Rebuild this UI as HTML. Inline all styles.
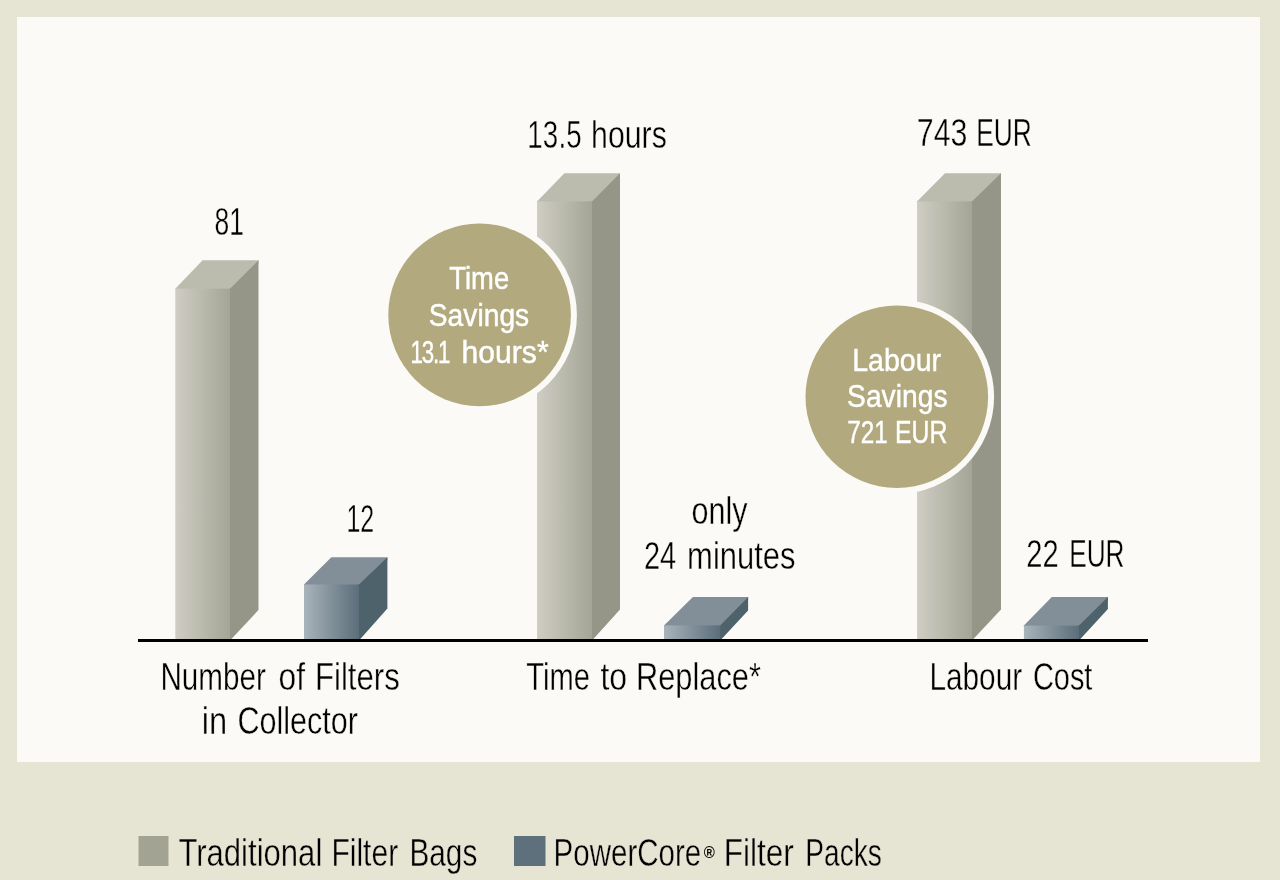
<!DOCTYPE html>
<html lang="en">
<head>
<meta charset="utf-8">
<title>PowerCore Filter Packs vs Traditional Filter Bags</title>
<style>
html,body{margin:0;padding:0;background:#e6e4d3;}
body{width:1280px;height:880px;overflow:hidden;}
svg{display:block;}
text{font-family:"Liberation Sans",sans-serif;fill:#000;stroke:#fbfaf6;stroke-width:0.4;}
.l{stroke:#e6e4d3;}
.w{fill:#fff;stroke:#fff;stroke-width:0.45;}
.r{font-weight:bold;stroke:none;}
</style>
</head>
<body>
<svg width="1280" height="880" viewBox="0 0 1280 880">
<defs>
<linearGradient id="gf" x1="0" y1="0" x2="1" y2="0">
<stop offset="0" stop-color="#d0cdc4"/><stop offset="0.5" stop-color="#b9b9ac"/><stop offset="1" stop-color="#a4a596"/>
</linearGradient>
<linearGradient id="bf" x1="0" y1="0" x2="1" y2="0">
<stop offset="0" stop-color="#a9b4bb"/><stop offset="0.5" stop-color="#82909a"/><stop offset="1" stop-color="#5b6e7a"/>
</linearGradient>
</defs>
<rect x="0" y="0" width="1280" height="880" fill="#e6e4d3"/>
<rect x="17" y="17" width="1243" height="745" fill="#fbfaf6"/>

<g>
<polygon points="175.3,289.7 175.3,288.7 202.6,260.3 258.5,260.3 258.5,263.3 230,291.7" fill="#bbbbae"/>
<polygon points="229,288.7 230,288.7 258.5,260.3 258.5,610 230,640.5 229,640.5" fill="#959687"/>
<rect x="175.3" y="288.7" width="54.7" height="351.8" fill="url(#gf)"/>
</g>
<g>
<polygon points="304,585.5 304,584.5 331.3,557.3 387.4,557.3 387.4,560.3 359,587.5" fill="#838f98"/>
<polygon points="358,584.5 359,584.5 387.4,557.3 387.4,608.5 359,640.5 358,640.5" fill="#4e626c"/>
<rect x="304" y="584.5" width="55" height="56.0" fill="url(#bf)"/>
</g>
<g>
<polygon points="537,202.4 537,201.4 564.4,173.2 620,173.2 620,176.2 592,204.4" fill="#bbbbae"/>
<polygon points="591,201.4 592,201.4 620,173.2 620,609.5 592,640.5 591,640.5" fill="#959687"/>
<rect x="537" y="201.4" width="55" height="439.1" fill="url(#gf)"/>
</g>
<g>
<polygon points="664,626.4 664,625.4 692.9,597.1 748.1,597.1 748.1,600.1 720.2,628.4" fill="#838f98"/>
<polygon points="719.2,625.4 720.2,625.4 748.1,597.1 748.1,610.5 720.2,640.5 719.2,640.5" fill="#4e626c"/>
<rect x="664" y="625.4" width="56.2" height="15.1" fill="url(#bf)"/>
</g>
<g>
<polygon points="917,202.4 917,201.4 945,173.2 1001,173.2 1001,176.2 972,204.4" fill="#bbbbae"/>
<polygon points="971,201.4 972,201.4 1001,173.2 1001,609.5 972,640.5 971,640.5" fill="#959687"/>
<rect x="917" y="201.4" width="55" height="439.1" fill="url(#gf)"/>
</g>
<g>
<polygon points="1023.9,626.6 1023.9,625.6 1051.8,597.1 1107.9,597.1 1107.9,600.1 1079,628.6" fill="#838f98"/>
<polygon points="1078,625.6 1079,625.6 1107.9,597.1 1107.9,609 1079,640.5 1078,640.5" fill="#4e626c"/>
<rect x="1023.9" y="625.6" width="55.1" height="14.9" fill="url(#bf)"/>
</g>

<!-- base line -->
<rect x="138" y="639" width="1010" height="3" fill="#000"/>

<!-- circles -->
<circle cx="479.6" cy="314.9" r="97.3" fill="#fbfaf6"/>
<circle cx="479.6" cy="314.9" r="91.3" fill="#b2a97e"/>
<circle cx="896.8" cy="396.7" r="97.3" fill="#fbfaf6"/>
<circle cx="896.8" cy="396.7" r="91.3" fill="#b2a97e"/>

<!-- labels -->
<text y="235" font-size="38.5"><tspan x="214.6" textLength="29.4" lengthAdjust="spacingAndGlyphs">81</tspan></text>
<text y="532" font-size="38.5"><tspan x="346.4" textLength="27.8" lengthAdjust="spacingAndGlyphs">12</tspan></text>
<text y="147.6" font-size="38.5"><tspan x="527.3" textLength="54.5" lengthAdjust="spacingAndGlyphs" letter-spacing="0.19">13.5</tspan> <tspan x="591.1" textLength="75.7" lengthAdjust="spacingAndGlyphs">hours</tspan></text>
<text y="146.3" font-size="38.5"><tspan x="916.8" textLength="50.6" lengthAdjust="spacingAndGlyphs">743</tspan> <tspan x="976.2" textLength="55.6" lengthAdjust="spacingAndGlyphs">EUR</tspan></text>
<text y="524" font-size="38.5"><tspan x="691.5" textLength="56.0" lengthAdjust="spacingAndGlyphs">only</tspan></text>
<text y="569" font-size="38.5"><tspan x="643.9" textLength="32.3" lengthAdjust="spacingAndGlyphs">24</tspan> <tspan x="687.1" textLength="108.4" lengthAdjust="spacingAndGlyphs">minutes</tspan></text>
<text y="566.5" font-size="38.5"><tspan x="1026.2" textLength="32.4" lengthAdjust="spacingAndGlyphs">22</tspan> <tspan x="1069.2" textLength="55.3" lengthAdjust="spacingAndGlyphs">EUR</tspan></text>
<text y="689.7" font-size="38.5"><tspan x="160.4" textLength="105.4" lengthAdjust="spacingAndGlyphs">Number</tspan> <tspan x="278.6" textLength="26.5" lengthAdjust="spacingAndGlyphs">of</tspan> <tspan x="315.0" textLength="84.8" lengthAdjust="spacingAndGlyphs">Filters</tspan></text>
<text y="734.3" font-size="38.5"><tspan x="201.8" textLength="25.4" lengthAdjust="spacingAndGlyphs">in</tspan> <tspan x="237.5" textLength="120.5" lengthAdjust="spacingAndGlyphs">Collector</tspan></text>
<text y="689.7" font-size="38.5"><tspan x="526.2" textLength="63.7" lengthAdjust="spacingAndGlyphs">Time</tspan> <tspan x="600.4" textLength="26.7" lengthAdjust="spacingAndGlyphs">to</tspan> <tspan x="636.0" textLength="124.9" lengthAdjust="spacingAndGlyphs">Replace*</tspan></text>
<text y="689.7" font-size="38.5"><tspan x="929.4" textLength="92.8" lengthAdjust="spacingAndGlyphs">Labour</tspan> <tspan x="1032.9" textLength="59.5" lengthAdjust="spacingAndGlyphs">Cost</tspan></text>
<text class="w" y="289" font-size="31"><tspan x="449.3" textLength="59.9" lengthAdjust="spacingAndGlyphs">Time</tspan></text>
<text class="w" y="326" font-size="31"><tspan x="428.8" textLength="100.4" lengthAdjust="spacingAndGlyphs">Savings</tspan></text>
<text class="w" y="363" font-size="31"><tspan x="410.4" textLength="38.9" lengthAdjust="spacingAndGlyphs" letter-spacing="-1.58">13.1</tspan> <tspan x="461.6" textLength="87.0" lengthAdjust="spacingAndGlyphs">hours*</tspan></text>
<text class="w" y="370.7" font-size="31"><tspan x="852.2" textLength="88.9" lengthAdjust="spacingAndGlyphs">Labour</tspan></text>
<text class="w" y="406.6" font-size="31"><tspan x="847.1" textLength="100.4" lengthAdjust="spacingAndGlyphs">Savings</tspan></text>
<text class="w" y="442.7" font-size="31"><tspan x="847.2" textLength="40.5" lengthAdjust="spacingAndGlyphs">721</tspan> <tspan x="895.1" textLength="52.3" lengthAdjust="spacingAndGlyphs">EUR</tspan></text>
<text class="l" y="865.8" font-size="38.5"><tspan x="178.4" textLength="143.9" lengthAdjust="spacingAndGlyphs">Traditional</tspan> <tspan x="331.4" textLength="66.8" lengthAdjust="spacingAndGlyphs">Filter</tspan> <tspan x="409.4" textLength="67.9" lengthAdjust="spacingAndGlyphs">Bags</tspan></text>
<text class="l" y="865.8" font-size="38.5"><tspan x="553.6" textLength="147.7" lengthAdjust="spacingAndGlyphs">PowerCore</tspan></text>
<text class="r" y="858.4" font-size="16"><tspan x="703.8" textLength="11.1" lengthAdjust="spacingAndGlyphs">®</tspan></text>
<text class="l" y="865.8" font-size="38.5"><tspan x="723.7" textLength="70.2" lengthAdjust="spacingAndGlyphs">Filter</tspan> <tspan x="805.3" textLength="76.5" lengthAdjust="spacingAndGlyphs">Packs</tspan></text>

<!-- legend -->
<rect x="138.5" y="836" width="30" height="30" fill="#a3a393"/>
<rect x="514" y="836" width="31.5" height="30" fill="#5e707c"/>
</svg>
</body>
</html>
